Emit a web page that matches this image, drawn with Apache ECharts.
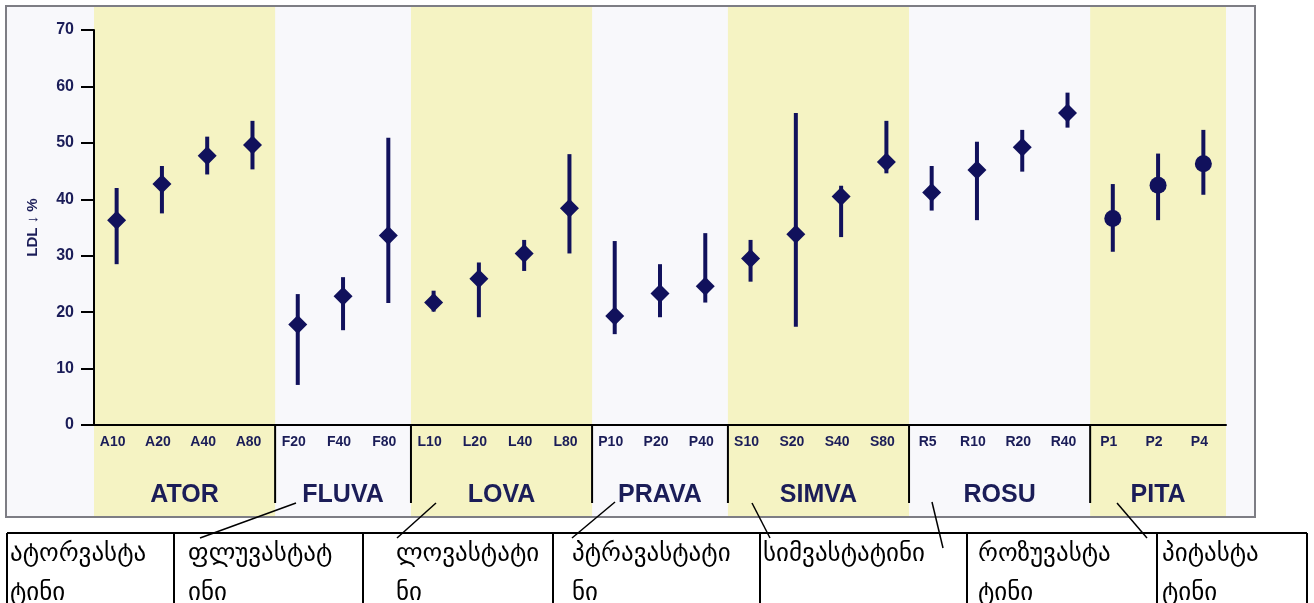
<!DOCTYPE html>
<html>
<head>
<meta charset="utf-8">
<script src="https://cdn.jsdelivr.net/npm/echarts@6/dist/echarts.min.js"></script>
<style>
  html, body { margin: 0; padding: 0; background: #ffffff; }
  #chart { width: 1314px; height: 603px; }
</style>
</head>
<body>
<div id="chart"></div>
<script>
// Dose categories (drug initial + daily dose in mg)
const categories = ['A10','A20','A40','A80','F20','F40','F80','L10','L20','L40','L80',
  'P10','P20','P40','S10','S20','S40','S80','R5','R10','R20','R40','P1','P2','P4'];

// Mean LDL reduction (%) and the reported range for each dose
const meanValues = [36.3,42.7,47.7,49.6, 17.8,22.8,33.6, 21.7,25.9,30.4,38.4,
  19.3,23.3,24.6, 29.5,33.8,40.5,46.6, 41.2,45.2,49.2,55.3, 36.6,42.5,46.3];
const lowValues  = [28.5,37.5,44.4,45.3, 7.1,16.8,21.6, 20.1,19.1,27.3,30.4,
  16.1,19.1,21.7, 25.4,17.4,33.3,44.6, 38.0,36.3,44.9,52.7, 30.7,36.3,40.8];
const highValues = [42.0,45.9,51.1,53.9, 23.2,26.2,50.9, 23.8,28.8,32.8,48.0,
  32.6,28.5,34.0, 32.8,55.3,42.4,53.9, 45.9,50.2,52.3,58.9, 42.7,48.1,52.3];

// Drug groups along the x axis
const groupNames  = ['ATOR','FLUVA','LOVA','PRAVA','SIMVA','ROSU','PITA'];
const groupSizes  = [4,3,4,3,4,4,3];
const groupShaded = [true,false,true,false,true,false,true];
const groupFullNames = ['ატორვასტა\nტინი','ფლუვასტატ\nინი','ლოვასტატი\nნი',
  'პტრავასტატი\nნი','სიმვასტატინი','როზუვასტა\nტინი','პიტასტა\nტინი'];

const yTicks = [0,10,20,30,40,50,60,70];

const NAVY = '#11115c';
const TEXT_NAVY = '#1b1d58';
const YELLOW = '#f5f3c3';
const FRAME = { x: 6, y: 6, w: 1249, h: 511 };
const SANS = "'Liberation Sans', Arial, sans-serif";
const GEO = "'DejaVu Sans', sans-serif";

const groupStarts = [];
groupSizes.reduce((acc, n) => { groupStarts.push(acc); return acc + n; }, 0);
const groupOf = i => { let g = 0; for (let k = 0; k < groupStarts.length; k++) if (i >= groupStarts[k]) g = k; return g; };

const scatterData = meanValues.map((v, i) => ({
  value: [i, v],
  symbol: groupNames[groupOf(i)] === 'PITA' ? 'circle' : 'diamond',
  symbolSize: groupNames[groupOf(i)] === 'PITA' ? 17 : 19
}));

const chart = echarts.init(document.getElementById('chart'), null, { renderer: 'canvas' });

// Table of full drug names below the chart, with pointer lines to the group labels
const tableTop = 533;
const colEdges = [7, 174, 363, 553, 760, 967, 1157, 1307];
const cellTextX = [10, 188, 396, 572, 763, 978, 1162];
const pointers = [
  null,
  [296, 503, 200, 538],
  [436, 503, 397, 538],
  [615, 502, 572, 538],
  [752, 503, 770, 538],
  [932, 502, 943, 548],
  [1117, 503, 1147, 538]
];

const graphics = [
  { type: 'rect', z: -20, silent: true,
    shape: { x: FRAME.x, y: FRAME.y, width: FRAME.w, height: FRAME.h },
    style: { fill: '#f8f8fb', stroke: '#7d7d84', lineWidth: 2 } },
  { type: 'line', z: 10, silent: true,
    shape: { x1: colEdges[0], y1: tableTop, x2: colEdges[colEdges.length - 1], y2: tableTop },
    style: { stroke: '#000', lineWidth: 2 } }
];
colEdges.forEach(x => graphics.push({ type: 'line', z: 10, silent: true,
  shape: { x1: x, y1: tableTop, x2: x, y2: 610 }, style: { stroke: '#000', lineWidth: 2 } }));
groupFullNames.forEach((t, i) => graphics.push({ type: 'text', z: 10, silent: true,
  x: cellTextX[i], y: tableTop + 2,
  style: { text: t, font: '25px ' + GEO, fill: '#000', lineHeight: 39, textVerticalAlign: 'top' } }));
pointers.forEach(p => { if (p) graphics.push({ type: 'line', z: 10, silent: true,
  shape: { x1: p[0], y1: p[1], x2: p[2], y2: p[3] }, style: { stroke: '#000', lineWidth: 1.5 } }); });

const option = {
  animation: false,
  backgroundColor: '#ffffff',
  grid: { left: 94, right: 88, top: 30, bottom: 178 },
  xAxis: {
    type: 'category',
    data: categories,
    boundaryGap: true,
    axisLine: { lineStyle: { color: '#000', width: 2 } },
    axisTick: { length: 10, lineStyle: { color: '#000', width: 2 } },
    axisLabel: {
      margin: 10, interval: 0, color: TEXT_NAVY,
      fontFamily: SANS, fontWeight: 'bold', fontSize: 14, padding: [0, 8, 0, 0]
    },
    splitLine: { show: false }
  },
  yAxis: {
    type: 'value', min: yTicks[0], max: yTicks[yTicks.length - 1], interval: 10,
    name: 'LDL ↓ %', nameLocation: 'middle', nameGap: 54, nameRotate: 90,
    nameTextStyle: { color: TEXT_NAVY, fontFamily: SANS, fontWeight: 'bold', fontSize: 15 },
    axisLine: { show: true, lineStyle: { color: '#000', width: 2 } },
    axisTick: { show: true, length: 13, lineStyle: { color: '#000', width: 2 } },
    axisLabel: { margin: 20, color: TEXT_NAVY, fontFamily: SANS, fontWeight: 'bold', fontSize: 16 },
    splitLine: { show: false }
  },
  graphic: graphics,
  series: [
    {
      // shaded bands behind alternate drug groups, spanning the whole frame height
      type: 'custom', z: -10, silent: true, clip: false,
      data: groupStarts.map((s, i) => [s, i]),
      encode: { x: 0 },
      renderItem: (params, api) => {
        const i = params.dataIndex;
        if (!groupShaded[i]) return null;
        const bw = api.size([1, 0])[0];
        const x0 = api.coord([groupStarts[i], 0])[0] - bw / 2;
        return { type: 'rect',
          shape: { x: x0, y: FRAME.y + 1, width: bw * groupSizes[i], height: FRAME.h - 2 },
          style: { fill: YELLOW } };
      }
    },
    {
      // group separators and drug group labels under the dose labels
      type: 'custom', z: 5, silent: true, clip: false,
      data: groupStarts.map((s, i) => [s, i]),
      encode: { x: 0 },
      renderItem: (params, api) => {
        const i = params.dataIndex;
        const bw = api.size([1, 0])[0];
        const x0 = api.coord([groupStarts[i], 0])[0] - bw / 2;
        const axisY = api.coord([0, 0])[1];
        const children = [{
          type: 'text',
          x: x0 + bw * groupSizes[i] / 2, y: axisY + 70,
          style: { text: groupNames[i], fill: TEXT_NAVY, font: 'bold 25px ' + SANS,
            textAlign: 'center', textVerticalAlign: 'middle' }
        }];
        if (i > 0) children.push({ type: 'line',
          shape: { x1: x0, y1: axisY, x2: x0, y2: axisY + 78 },
          style: { stroke: '#000', lineWidth: 2 } });
        return { type: 'group', children };
      }
    },
    {
      // range bars
      type: 'custom', z: 3, silent: true,
      data: categories.map((c, i) => [i, lowValues[i], highValues[i]]),
      encode: { x: 0, y: [1, 2] },
      renderItem: (params, api) => {
        const p1 = api.coord([api.value(0), api.value(1)]);
        const p2 = api.coord([api.value(0), api.value(2)]);
        return { type: 'line', shape: { x1: p1[0], y1: p1[1], x2: p2[0], y2: p2[1] },
          style: { stroke: NAVY, lineWidth: 4 } };
      }
    },
    {
      type: 'scatter', z: 4, silent: true,
      data: scatterData,
      itemStyle: { color: NAVY, opacity: 1 }
    }
  ]
};

chart.setOption(option);
</script>
</body>
</html>
